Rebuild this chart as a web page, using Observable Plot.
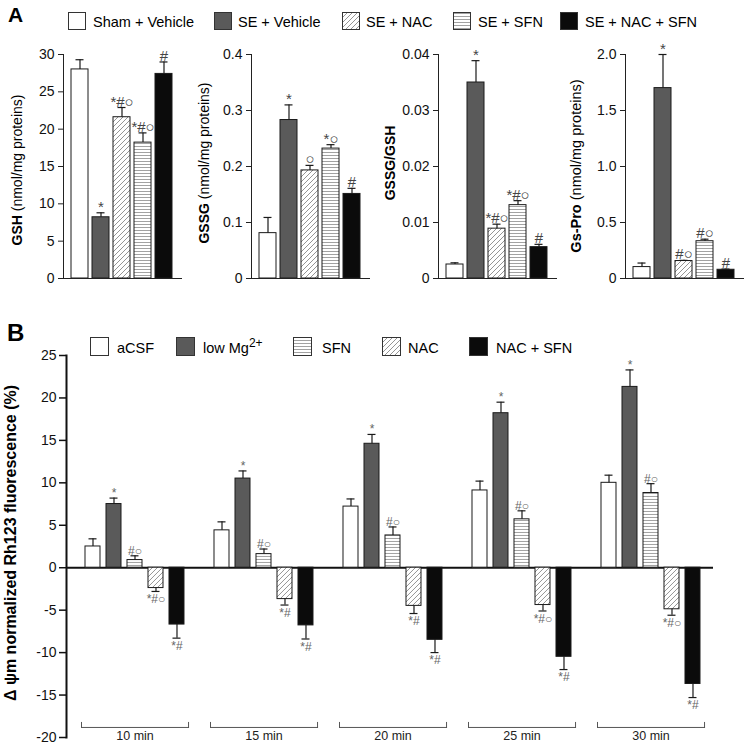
<!DOCTYPE html>
<html><head><meta charset="utf-8">
<script src="https://cdn.jsdelivr.net/npm/d3@7"></script>
<script src="https://cdn.jsdelivr.net/npm/@observablehq/plot@0.6"></script>
<style>
html,body{margin:0;padding:0;background:#fff;}
#root{position:relative;width:748px;height:744px;overflow:hidden;font-family:"Liberation Sans",Arial,Helvetica,sans-serif;}
#root svg{position:absolute;}
</style></head><body><div id="root"></div>
<script>
// ---------- Panel A data ----------
const groupsA = ["Sham + Vehicle", "SE + Vehicle", "SE + NAC", "SE + SFN", "SE + NAC + SFN"];
const gshMean = [28.0, 8.2, 21.6, 18.2, 27.4];
const gshErr  = [29.3, 8.8, 22.9, 19.5, 29.0];
const gshSig  = ["", "*", "*#○", "*#○", "#"];
const gssgMean = [0.081, 0.283, 0.193, 0.232, 0.151];
const gssgErr  = [0.109, 0.310, 0.202, 0.239, 0.161];
const gssgSig  = ["", "*", "○", "*○", "#"];
const ratioMean = [0.0025, 0.0350, 0.0089, 0.0131, 0.0056];
const ratioErr  = [0.0028, 0.0389, 0.0097, 0.0139, 0.0061];
const ratioSig  = ["", "*", "*#○", "*#○", "#"];
const gsproMean = [0.102, 1.70, 0.156, 0.333, 0.078];
const gsproErr  = [0.138, 2.00, 0.162, 0.351, 0.084];
const gsproSig  = ["", "*", "#○", "#○", "#"];
const gshTicks   = [0, 5, 10, 15, 20, 25, 30];
const gssgTicks  = [0, 0.1, 0.2, 0.3, 0.4];
const ratioTicks = [0, 0.01, 0.02, 0.03, 0.04];
const gsproTicks = [0, 0.5, 1.0, 1.5, 2.0];

// ---------- Panel B data ----------
const timesB  = ["10 min", "15 min", "20 min", "25 min", "30 min"];
const seriesB = ["aCSF", "low Mg2+", "SFN", "NAC", "NAC + SFN"];
const aCSF       = [2.5, 4.4, 7.2, 9.1, 10.0];
const aCSFErr    = [3.4, 5.4, 8.1, 10.2, 10.9];
const lowMg      = [7.5, 10.5, 14.6, 18.2, 21.3];
const lowMgErr   = [8.2, 11.4, 15.7, 19.5, 23.3];
const sfn        = [0.9, 1.6, 3.8, 5.7, 8.8];
const sfnErr     = [1.4, 2.2, 4.8, 6.7, 9.9];
const nac        = [-2.4, -3.7, -4.5, -4.4, -4.9];
const nacErr     = [-2.8, -4.4, -5.4, -5.1, -5.6];
const nacSfn     = [-6.7, -6.8, -8.5, -10.5, -13.7];
const nacSfnErr  = [-8.3, -8.4, -10.0, -12.0, -15.3];
const aCSFSig    = ["", "", "", "", ""];
const lowMgSig   = ["*", "*", "*", "*", "*"];
const sfnSig     = ["#○", "#○", "#○", "#○", "#○"];
const nacSig     = ["*#○", "*#", "*#", "*#○", "*#○"];
const nacSfnSig  = ["*#", "*#", "*#", "*#", "*#"];
const ticksB = [-20, -15, -10, -5, 0, 5, 10, 15, 20, 25];

const FONT = '"Liberation Sans", Arial, Helvetica, sans-serif';
const FILL_A = ["white", "#5a5a5a", "url(#diag)", "url(#horiz)", "#0b0b0b"];
const FILL_B = ["white", "#5a5a5a", "url(#horiz)", "url(#diag)", "#0b0b0b"];
const root = document.getElementById("root");

// ---------- patterns + labels overlay ----------
const ov = d3.select(root).append("svg").attr("width", 748).attr("height", 744)
  .style("left", "0px").style("top", "0px").style("font-family", FONT);
const defs = ov.append("defs");
const pd = defs.append("pattern").attr("id", "diag").attr("patternUnits", "userSpaceOnUse").attr("width", 5).attr("height", 5);
pd.append("rect").attr("width", 5).attr("height", 5).attr("fill", "white");
pd.append("path").attr("d", "M-1,1L1,-1M0,5L5,0M4,6L6,4").attr("stroke", "#7a7a7a").attr("stroke-width", 0.8);
const ph = defs.append("pattern").attr("id", "horiz").attr("patternUnits", "userSpaceOnUse").attr("width", 4).attr("height", 3);
ph.append("rect").attr("width", 4).attr("height", 3).attr("fill", "white");
ph.append("path").attr("d", "M0,1.5H4").attr("stroke", "#8a8a8a").attr("stroke-width", 0.8);

ov.append("text").attr("x", 8).attr("y", 22).attr("font-size", 21).attr("font-weight", "bold").text("A");
ov.append("text").attr("x", 7).attr("y", 341).attr("font-size", 24).attr("font-weight", "bold").text("B");

// legend A
const legA = [[68, 93], [214, 238], [342, 366], [453, 478], [560, 585]];
groupsA.forEach((g, i) => {
  ov.append("rect").attr("x", legA[i][0] + 0.5).attr("y", 12.5).attr("width", 17).attr("height", 17)
    .attr("fill", FILL_A[i]).attr("stroke", "#333").attr("stroke-width", 1);
  ov.append("text").attr("x", legA[i][1]).attr("y", 26.5).attr("font-size", 14.5).text(g);
});
// legend B
const legB = [[90, 117], [176, 203], [293, 322], [382, 408], [469, 496]];
seriesB.forEach((s, i) => {
  ov.append("rect").attr("x", legB[i][0] + 0.5).attr("y", 337.5).attr("width", 18).attr("height", 18)
    .attr("fill", FILL_B[i]).attr("stroke", "#333").attr("stroke-width", 1);
  const t = ov.append("text").attr("x", legB[i][1]).attr("y", 352.5).attr("font-size", 14.5);
  if (s === "low Mg2+") {
    t.append("tspan").text("low Mg");
    t.append("tspan").attr("dy", -6).attr("font-size", 12).text("2+");
  } else t.text(s);
});

// y labels
function ylab(x, y, bold, rest, size) {
  const t = ov.append("text").attr("transform", `translate(${x},${y}) rotate(-90)`)
    .attr("text-anchor", "middle").attr("font-size", size).style("white-space", "pre");
  t.append("tspan").attr("font-weight", "bold").text(bold);
  if (rest) t.append("tspan").text(rest);
}
ylab(22, 170, "GSH", " (nmol/mg proteins)", 14);
ylab(209, 163, "GSSG", " (nmol/mg proteins)", 14);
ylab(395, 163, "GSSG/GSH", "", 14);
ylab(581, 166, "Gs-Pro", " (nmol/mg proteins)", 14.5);
ylab(16, 543, "Δ ψm normalized Rh123 fluorescence (%)", "", 16);

// ---------- Panel A subplots ----------
function place(svg, left, top) {
  svg.style.left = left + "px"; svg.style.top = top + "px";
  svg.style.background = "none"; svg.style.overflow = "visible";
  root.appendChild(svg);
}
function panelA(left, mean, err, sig, ticks, fmt) {
  const data = groupsA.map((g, i) => ({g, v: mean[i], e: err[i], s: sig[i]}));
  const marks = groupsA.map((g, i) =>
    Plot.barY(data.filter(d => d.g === g), {x: "g", y: "v", fill: FILL_A[i], stroke: "#1a1a1a", strokeWidth: 1}));
  marks.push(
    Plot.ruleX(data, {x: "g", y1: "v", y2: "e", stroke: "#1a1a1a", strokeWidth: 1.2}),
    Plot.tickY(data, {x: "g", y: "e", stroke: "#1a1a1a", strokeWidth: 1.2, insetLeft: 4.5, insetRight: 4.5}),
    Plot.text(data, {x: "g", y: "e", text: "s", lineAnchor: "bottom", dy: -1, fill: "#444", fontSize: 15}),
    Plot.ruleY([0], {stroke: "#222"}),
    Plot.frame({anchor: "left", stroke: "#222"}),
    Plot.axisY({ticks, tickFormat: fmt, tickSize: 5, tickPadding: 4, label: null, stroke: "#222"})
  );
  const svg = Plot.plot({
    width: 185, height: 250, marginLeft: 63, marginRight: 3, marginTop: 14, marginBottom: 12,
    x: {domain: groupsA, range: [68.5, 174], paddingInner: 0.17, paddingOuter: 0, axis: null},
    y: {domain: [0, ticks[ticks.length - 1]]},
    style: {fontFamily: FONT, fontSize: "14px", color: "#111"},
    marks
  });
  place(svg, left, 40);
}
panelA(0, gshMean, gshErr, gshSig, gshTicks, d => String(d));
panelA(188, gssgMean, gssgErr, gssgSig, gssgTicks, d => d === 0 ? "0" : d3.format(".1f")(d));
panelA(375, ratioMean, ratioErr, ratioSig, ratioTicks, d => d === 0 ? "0" : d3.format(".2f")(d));
panelA(562, gsproMean, gsproErr, gsproSig, gsproTicks, d => d === 0 ? "0" : d3.format(".1f")(d));

// ---------- Panel B ----------
const axisB = Plot.plot({
  width: 748, height: 444, marginLeft: 66, marginRight: 35, marginTop: 55, marginBottom: 7,
  y: {domain: [-20, 25]},
  style: {fontFamily: FONT, fontSize: "14px", color: "#111"},
  marks: [
    Plot.axisY({ticks: ticksB, tickFormat: d => String(d), tickSize: 7, tickPadding: 3, label: null, strokeWidth: 1.5}),
    Plot.frame({anchor: "left", strokeWidth: 2}),
    Plot.ruleY([0], {strokeWidth: 2})
  ]
});
place(axisB, 0, 300);

const valsB = [aCSF, lowMg, sfn, nac, nacSfn];
const errsB = [aCSFErr, lowMgErr, sfnErr, nacErr, nacSfnErr];
const sigsB = [aCSFSig, lowMgSig, sfnSig, nacSig, nacSfnSig];
const gband = d3.scaleBand().domain(timesB).range([81, 704]).paddingInner(0.17);
timesB.forEach((t, ti) => {
  const data = seriesB.map((s, si) => ({s, v: valsB[si][ti], e: errsB[si][ti], sig: sigsB[si][ti]}));
  const w = gband.bandwidth() + 2;
  const marks = seriesB.map((s, si) =>
    Plot.barY(data.filter(d => d.s === s), {x: "s", y: "v", fill: FILL_B[si], stroke: "#1a1a1a", strokeWidth: 1}));
  marks.push(
    Plot.ruleX(data, {x: "s", y1: "v", y2: "e", stroke: "#1a1a1a", strokeWidth: 1.2}),
    Plot.tickY(data, {x: "s", y: "e", stroke: "#1a1a1a", strokeWidth: 1.2, insetLeft: 3.5, insetRight: 3.5}),
    Plot.text(data.filter(d => d.v >= 0), {x: "s", y: "e", text: "sig", lineAnchor: "bottom", dy: -1, fill: "#666", fontSize: 12}),
    Plot.text(data.filter(d => d.v < 0), {x: "s", y: "e", text: "sig", lineAnchor: "top", dy: 3, fill: "#666", fontSize: 12}),
    Plot.frame({anchor: "bottom", insetBottom: 10, stroke: "#555"}),
    Plot.frame({anchor: "left", insetTop: 367, insetBottom: 10, stroke: "#555"}),
    Plot.frame({anchor: "right", insetTop: 367, insetBottom: 10, stroke: "#555"}),
    Plot.text([t], {text: d => d, frameAnchor: "bottom", lineAnchor: "middle", dy: -1, fontSize: 12.5, fill: "#222"})
  );
  const svg = Plot.plot({
    width: w, height: 444, marginLeft: 1, marginRight: 1, marginTop: 55, marginBottom: 7,
    x: {domain: seriesB, range: [3, w - 3], paddingInner: 0.264, paddingOuter: 0, axis: null},
    y: {domain: [-20, 25], axis: null},
    style: {fontFamily: FONT, fontSize: "12px", color: "#111"},
    marks
  });
  place(svg, gband(t) - 1, 300);
});
</script></body></html>
